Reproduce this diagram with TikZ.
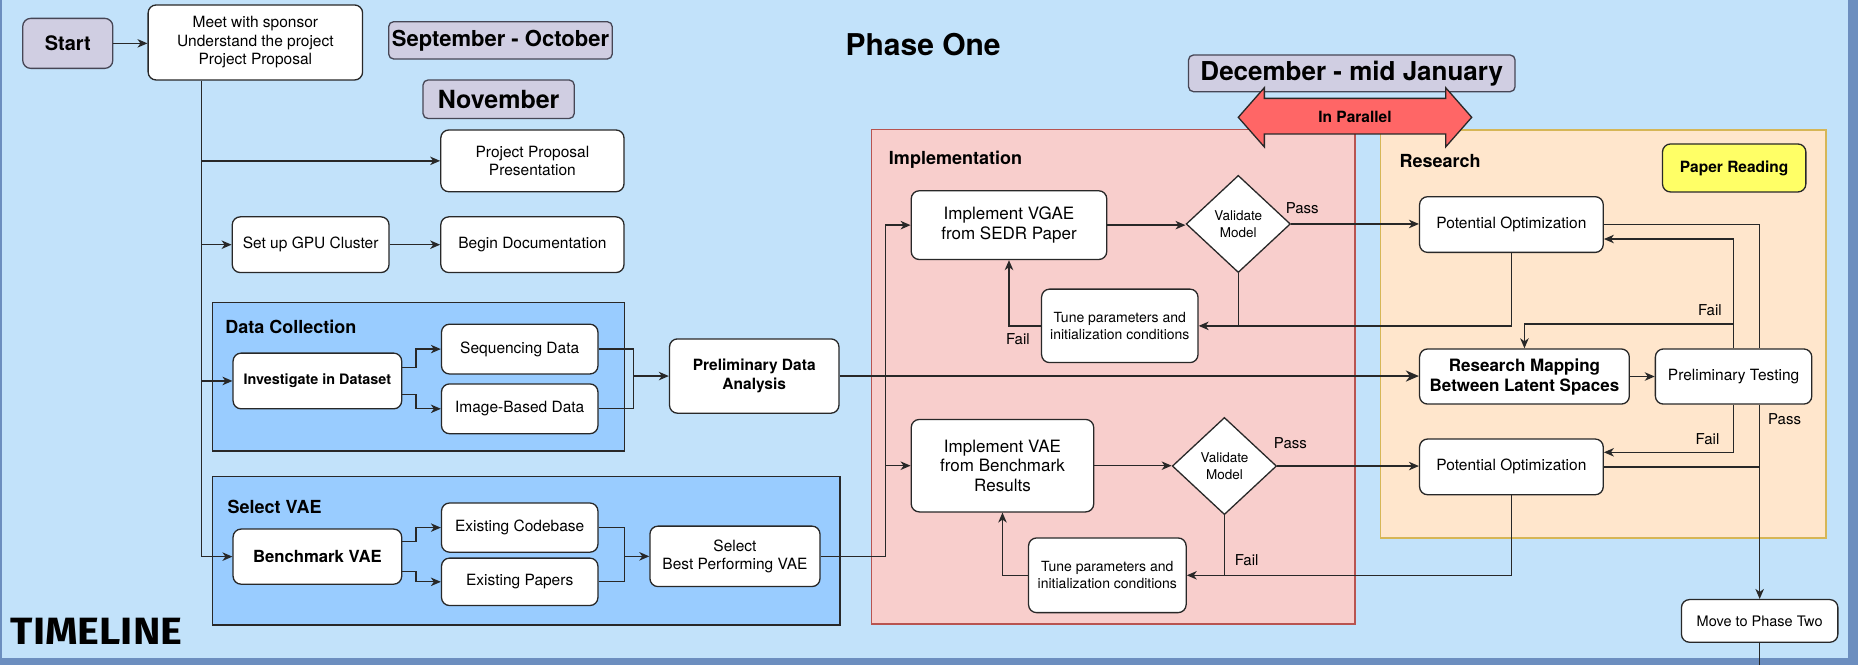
\documentclass[tikz,border=0pt]{standalone}
\usepackage{fontspec}
\setmainfont{TeX Gyre Heros}
\newfontfamily\timelinefont{Fira Sans}
\usetikzlibrary{arrows.meta,shapes.geometric,calc}

\definecolor{bgblue}{RGB}{194,226,250}
\definecolor{frameblue}{RGB}{108,142,191}
\definecolor{groupblue}{RGB}{153,204,255}
\definecolor{implfill}{RGB}{248,206,204}
\definecolor{impldraw}{RGB}{184,84,80}
\definecolor{resfill}{RGB}{255,230,204}
\definecolor{resdraw}{RGB}{214,182,86}
\definecolor{lav}{RGB}{208,206,226}
\definecolor{lavdraw}{RGB}{70,70,85}
\definecolor{ink}{RGB}{40,40,40}
\definecolor{paperyellow}{RGB}{255,255,102}
\definecolor{parred}{RGB}{255,102,102}

\newcommand{\fs}[2]{\fontsize{#1}{#2}\selectfont}
% box from its two corners (in picture units): [options]{name}{x1}{y1}{x2}{y2}{text}
\newcommand{\flowbox}[7][]{%
  \pgfmathsetmacro\fbw{(#5-#3)*1.185}%
  \pgfmathsetmacro\fbh{(#6-#4)*1.185}%
  \node[wbox,minimum width=\fbw pt,minimum height=\fbh pt,#1] (#2) at ({(#3+#5)/2},{(#4+#6)/2}) {#7};}

\tikzset{
  wbox/.style={draw=ink, fill=white, line width=1.3pt, rounded corners=8pt,
    align=center, inner sep=0pt, font=\fs{15.5}{18.5}},
  month/.style={draw=lavdraw, fill=lav, rounded corners=5pt,
    font=\bfseries\fs{22}{26}},
  grp/.style={sharp corners},
  glabel/.style={anchor=west, inner sep=0pt, font=\bfseries\fs{18}{21}},
  lbl/.style={inner sep=0pt, font=\fs{15}{18}},
  conn/.style={draw=ink, line width=1.3pt},
  arr/.style={conn, -{Stealth[length=10pt,width=8.5pt,inset=3pt]}},
  dia/.style={diamond, draw=ink, fill=white, line width=1.3pt, inner sep=0pt,
    align=center, font=\fs{13.5}{17}, minimum width=104.3pt, minimum height=97.2pt}
}

\begin{document}
\begin{tikzpicture}[x=1.185pt,y=-1.185pt]
\useasboundingbox (0,0) rectangle (1568,561);

% canvas with its frame
\fill[frameblue] (0,0) rectangle (1568,561);
\fill[bgblue] (2,0) rectangle (1559.5,555.5);

% grouping containers
\flowbox[grp, fill=groupblue]{dcbox}{179.6}{255.4}{527}{380.6}{}
\flowbox[grp, fill=groupblue]{svbox}{179.6}{402.4}{709}{527.5}{}
\flowbox[grp, fill=implfill, draw=impldraw]{implbox}{735.5}{109}{1143.5}{526.5}{}
\flowbox[grp, fill=resfill, draw=resdraw]{resbox}{1165}{109.7}{1541}{454}{}

\node[glabel] (dclbl) at (190,276) {Data Collection};
\node[glabel] (svlbl) at (192,428) {Select VAE};
\node[glabel] (impllbl) at (750,135) {Implementation};
\node[glabel] (reslbl) at (1181,136) {Research};

% header
\flowbox[fill=lav, draw=lavdraw, font=\bfseries\fs{20}{24}]{start}{19.2}{15.5}{95.2}{57.7}{Start}
\flowbox{meet}{125}{4.2}{306}{67.5}{Meet with sponsor\\Understand the project\\Project Proposal}
\flowbox[month]{sepoct}{328}{18.3}{516.7}{49.8}{September - October}
\flowbox[month, font=\bfseries\fs{25}{28}]{nov}{357}{67.5}{484.6}{100}{November}
\node[font=\bfseries\fs{30}{34}, inner sep=0pt] (phase) at (779,38) {Phase One};
\flowbox[month, font=\bfseries\fs{26}{30}]{dec}{1003}{46.4}{1278.6}{77.4}{December - mid January}

% two-headed "in parallel" arrow
\path[draw=ink, fill=parred, line width=1.3pt, line join=miter]
  (1045,99) -- (1067,74) -- (1067,83) -- (1220,83) -- (1220,74) -- (1242,99)
  -- (1220,124) -- (1220,113) -- (1067,113) -- (1067,124) -- cycle;
\node[font=\bfseries\fs{15.5}{18}, inner sep=0pt] (par) at (1143.5,99) {In Parallel};

% early tasks
\flowbox{ppp}{372}{109.7}{526.6}{161.8}{Project Proposal\\Presentation}
\flowbox{gpu}{196}{183}{328.3}{230}{Set up GPU Cluster}
\flowbox{doc}{372}{183}{526.6}{230}{Begin Documentation}

% data collection
\flowbox[font=\bfseries\fs{14.4}{17}]{inv}{196.7}{298}{339}{345}{Investigate in Dataset}
\flowbox{seq}{372.6}{273.6}{504.6}{315.6}{Sequencing Data}
\flowbox{img}{372.6}{324}{504.6}{366}{Image-Based Data}
\flowbox[font=\bfseries\fs{15.5}{19}]{pda}{565}{286}{708}{348.7}{Preliminary Data\\Analysis}

% VAE selection
\flowbox[font=\bfseries\fs{16.7}{20}]{bench}{196.7}{446.5}{339}{493}{Benchmark VAE}
\flowbox{code}{372.6}{424.5}{504.6}{466}{Existing Codebase}
\flowbox{pap}{372.6}{471}{504.6}{511}{Existing Papers}
\flowbox{best}{548.5}{444}{692}{495}{Select\\Best Performing VAE}

\node[anchor=base west, inner sep=0pt, font=\timelinefont\bfseries\fs{38}{40}] (tl) at (9,543.5) {\scalebox{1.09}[1]{TIMELINE}};

% implementation
\flowbox[font=\fs{17}{19.5}]{vgae}{769}{161}{934}{219}{Implement VGAE\\from SEDR Paper}
\node[dia] (val1) at (1045,189) {Validate\\Model};
\flowbox[font=\fs{14}{17}]{tune1}{879}{244}{1011}{306}{Tune parameters and\\initialization conditions}
\flowbox[font=\fs{17}{19.5}]{vae}{769}{354}{923}{432}{Implement VAE\\from Benchmark\\Results}
\node[dia] (val2) at (1033.3,393.3) {Validate\\Model};
\flowbox[font=\fs{14}{17}]{tune2}{868}{454}{1001}{517}{Tune parameters and\\initialization conditions}

% research
\flowbox[fill=paperyellow, font=\bfseries\fs{15.5}{18}]{paper}{1403}{121.5}{1524}{162}{Paper Reading}
\flowbox{po1}{1198}{166}{1353}{213}{Potential Optimization}
\flowbox[font=\bfseries\fs{17}{20}]{rm}{1198}{294.5}{1375}{341}{Research Mapping\\Between Latent Spaces}
\flowbox{pt}{1397}{294.5}{1529}{341}{Preliminary Testing}
\flowbox{po2}{1198}{370.5}{1353}{417.5}{Potential Optimization}
\flowbox[font=\fs{14.5}{17}]{mpt}{1419}{506}{1551}{542}{Move to Phase Two}

% routing helpers
\coordinate (trunk) at (170,0);
\coordinate (m1) at (534.7,0);
\coordinate (m2) at (527,0);
\coordinate (vb) at (747,0);
\coordinate (px) at (1485,0);
\coordinate (fy) at (0,273.4);
\coordinate (bottom) at (0,561);

% left-hand flow
\draw[arr] (start.east) -- (start.east -| meet.west);
\draw[conn] (meet.south -| trunk) -- (trunk |- bench.west);
\draw[arr] (trunk |- ppp.west) -- (ppp.west);
\draw[arr] (trunk |- gpu.west) -- (gpu.west);
\draw[arr] (trunk |- inv.west) -- (inv.west);
\draw[arr] (trunk |- bench.west) -- (bench.west);
\draw[arr] (gpu) -- (doc);

\draw[arr] ($(inv.east)+(0,-11.5)$) -- ++(11.5,0) |- (seq.west);
\draw[arr] ($(inv.east)+(0,11.5)$) -- ++(11.5,0) |- (img.west);
\draw[conn] (seq.east) -| (m1 |- pda.west);
\draw[conn] (img.east) -| (m1 |- pda.west);
\draw[arr] (m1 |- pda.west) -- (pda.west);

\draw[arr] ($(bench.east)+(0,-12.5)$) -- ++(11.5,0) |- (code.west);
\draw[arr] ($(bench.east)+(0,12.5)$) -- ++(11.5,0) |- (pap.west);
\draw[conn] (code.east) -| (m2 |- best.west);
\draw[conn] (pap.east) -| (m2 |- best.west);
\draw[arr] (m2 |- best.west) -- (best.west);

\draw[conn] (best.east) -| (vb |- vgae.west);
\draw[arr] (vb |- vgae.west) -- (vgae.west);
\draw[arr] (vb |- vae.west) -- (vae.west);

\draw[draw=ink, line width=2.5pt, -{Stealth[length=13pt,width=11pt,inset=4pt]}] (pda.east) -- (pda.east -| rm.west);

% implementation loops
\draw[arr] (vgae.east) -- (vgae.east -| val1.west);
\draw[arr] (val1.east) -- (val1.east -| po1.west);
\node[lbl] (pass1) at (1099,176) {Pass};
\draw[arr] (val1.south) |- (tune1.east);
\draw[conn] (po1.south) |- (val1.south |- tune1.east);
\draw[arr] (tune1.west) -| (vgae.south);
\node[lbl] (fail1) at (859,286) {Fail};

\draw[arr] (vae.east) -- (vae.east -| val2.west);
\draw[arr] (val2.east) -- (val2.east -| po2.west);
\node[lbl] (pass2) at (1089,374) {Pass};
\draw[arr] (val2.south) |- (tune2.east);
\draw[conn] (po2.south) |- (val2.south |- tune2.east);
\draw[arr] (tune2.west) -| (vae.south);
\node[lbl] (fail2) at (1052,473) {Fail};

% research loops
\draw[arr] (rm) -- (pt);
\draw[arr] (pt.north) |- ($(po1.east)+(0,12.2)$);
\draw[arr] (pt.north |- fy) -| (rm.north);
\node[lbl] (fail3) at (1443,262) {Fail};
\draw[conn] (po1.east) -| (px |- pt.north);
\draw[conn] (po2.east) -- (po2.east -| px);
\draw[arr] (px |- pt.south) -- (mpt.north);
\node[lbl] (pass3) at (1506,354) {Pass};
\draw[arr] (pt.south) |- ($(po2.east)+(0,-12.3)$);
\node[lbl] (fail4) at (1441,371) {Fail};
\draw[conn] (mpt.south) -- (mpt.south |- bottom);
\end{tikzpicture}
\end{document}
